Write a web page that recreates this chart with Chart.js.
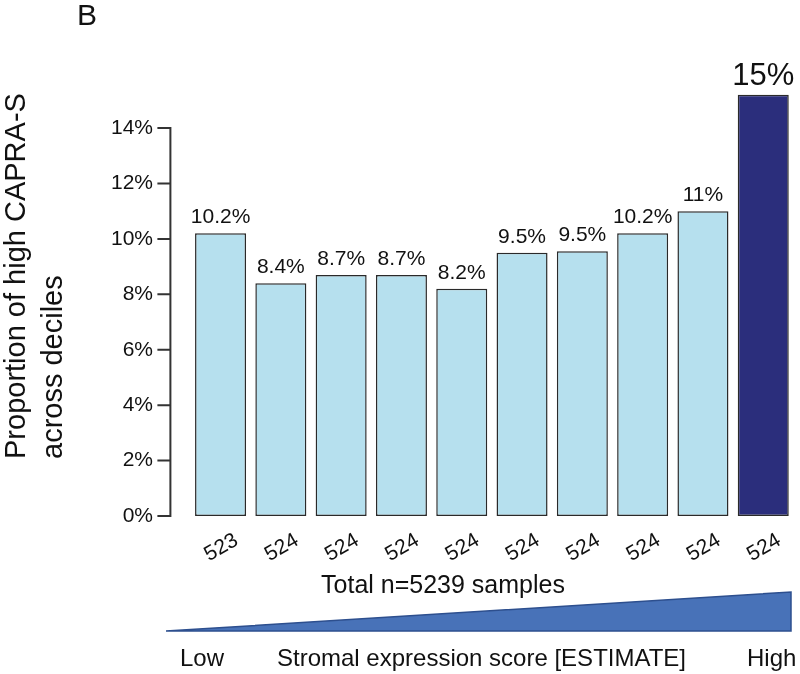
<!DOCTYPE html>
<html>
<head>
<meta charset="utf-8">
<script src="https://cdn.jsdelivr.net/npm/chart.js@4.4.0/dist/chart.umd.min.js"></script>
<style>
  body { margin: 0; background: #fff; }
  #wrap { position: relative; width: 800px; height: 674px; font-family: "Liberation Sans", Arial, sans-serif; color: #111; }
  #wrap canvas { position: absolute; left: 0; top: 0; }
  .txt { position: absolute; white-space: nowrap; }
  #panel { left: 77px; top: 0; font-size: 30px; line-height: 30px; }
  #ytitle { left: -3.5px; top: 459px; font-size: 29px; line-height: 37px; transform: rotate(-90deg); transform-origin: 0 0; }
  #total { left: 443px; top: 572px; font-size: 25px; line-height: 25px; transform: translateX(-50%); }
  #low { left: 180px; top: 646px; font-size: 24px; line-height: 24px; }
  #score { left: 277px; top: 646px; font-size: 24px; line-height: 24px; }
  #high { left: 747px; top: 646px; font-size: 24px; line-height: 24px; }
  #ramp { position: absolute; left: 0; top: 0; }
</style>
</head>
<body>
<div id="wrap">
  <canvas id="chart"></canvas>
  <div class="txt" id="panel">B</div>
  <div class="txt" id="ytitle">Proportion of high CAPRA-S<br>across deciles</div>
  <div class="txt" id="total">Total n=5239 samples</div>
  <svg id="ramp" width="800" height="674">
    <polygon points="166,631 791,592 791,631" fill="#4872b8" stroke="#2d4f8e" stroke-width="1.5"/>
  </svg>
  <div class="txt" id="low">Low</div>
  <div class="txt" id="score">Stromal expression score [ESTIMATE]</div>
  <div class="txt" id="high">High</div>
</div>
<script>
// samples per decile (tick labels) and proportion of high CAPRA-S in each
const sampleCounts = ['523', '524', '524', '524', '524', '524', '524', '524', '524', '524'];
const highCapraPct = [10.2, 8.4, 8.7, 8.7, 8.2, 9.5, 9.55, 10.2, 11.0, 15.2];
const valueLabels = ['10.2%', '8.4%', '8.7%', '8.7%', '8.2%', '9.5%', '9.5%', '10.2%', '11%', '15%'];
const yTicks = [0, 2, 4, 6, 8, 10, 12, 14];

const fontFamily = '"Liberation Sans", Arial, sans-serif';
Chart.defaults.font.family = fontFamily;
Chart.defaults.color = '#111';

const topIndex = highCapraPct.indexOf(Math.max(...highCapraPct));

// y axis line sits a bit left of the first bar, and stops at the last tick
const axisLine = {
    id: 'axisLine',
    afterDraw(chart) {
        const {ctx, chartArea, scales: {y}} = chart;
        const x = chartArea.left - 20;
        ctx.save();
        ctx.strokeStyle = '#333';
        ctx.lineWidth = 2;
        ctx.beginPath();
        ctx.moveTo(x, y.getPixelForValue(yTicks[yTicks.length - 1]) - 1);
        ctx.lineTo(x, y.getPixelForValue(0) + 1);
        yTicks.forEach(v => {
            const py = y.getPixelForValue(v);
            ctx.moveTo(x - 13, py);
            ctx.lineTo(x, py);
        });
        ctx.stroke();
        ctx.restore();
    }
};

const barLabels = {
    id: 'barLabels',
    afterDatasetsDraw(chart) {
        const {ctx} = chart;
        const meta = chart.getDatasetMeta(0);
        ctx.save();
        ctx.fillStyle = '#111';
        ctx.textAlign = 'center';
        ctx.textBaseline = 'alphabetic';
        meta.data.forEach((bar, i) => {
            ctx.font = (i === topIndex ? 31 : 21) + 'px ' + fontFamily;
            ctx.fillText(valueLabels[i], bar.x, bar.y - 10);
        });
        ctx.restore();
    }
};

new Chart(
    document.getElementById('chart'),
    {
        type: 'bar',
        data: {
            labels: sampleCounts,
            datasets: [{
                data: highCapraPct,
                backgroundColor: ctx => ctx.dataIndex === topIndex ? '#2b2e7c' : '#b6e0ee',
                borderColor: '#2a2a2a',
                borderWidth: 1.5,
                borderSkipped: false,
                barPercentage: 0.846,
                categoryPercentage: 1
            }]
        },
        options: {
            responsive: true,
            maintainAspectRatio: false,
            animation: false,
            layout: {
                padding: {top: 72.6, right: 6.6, left: 0, bottom: 0}
            },
            plugins: {
                legend: {display: false},
                tooltip: {enabled: false}
            },
            scales: {
                x: {
                    grid: {display: false, drawTicks: false},
                    border: {display: false},
                    ticks: {
                        font: {size: 21},
                        color: '#111',
                        minRotation: 30,
                        maxRotation: 30,
                        autoSkip: false,
                        padding: 12,
                        labelOffset: 16
                    },
                    afterFit: axis => { axis.height = 158; }
                },
                y: {
                    min: 0,
                    max: 16,
                    grid: {display: false, drawTicks: false},
                    border: {display: false},
                    afterBuildTicks: axis => { axis.ticks = yTicks.map(v => ({value: v})); },
                    ticks: {
                        font: {size: 21},
                        color: '#111',
                        padding: 37.4,
                        callback: v => v + '%'
                    },
                    afterFit: axis => { axis.width = 190.4; }
                }
            }
        },
        plugins: [axisLine, barLabels]
    }
);
</script>
</body>
</html>
